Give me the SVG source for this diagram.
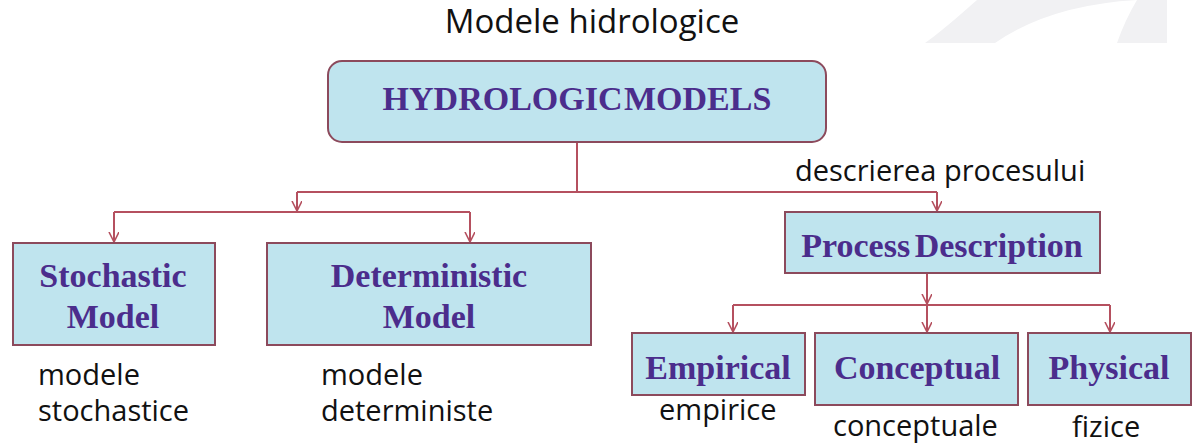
<svg xmlns="http://www.w3.org/2000/svg" width="1194" height="443" viewBox="0 0 1194 443">
<style>
.box{fill:#bfe4ee;stroke:#8c4a5c;stroke-width:2}
.bt{font-family:"Liberation Serif","Times New Roman",serif;font-weight:bold;font-size:34px;fill:#4b2d8c;text-anchor:middle}
.lbl{font-family:"Open Sans","Noto Sans",sans-serif;font-size:29px;fill:#111}
.con{fill:none;stroke:#b5505f;stroke-width:2}
</style>
<defs>
<marker id="ah" markerWidth="12" markerHeight="12" refX="10" refY="5" orient="auto" markerUnits="userSpaceOnUse">
<path d="M0,0 L10,5 L0,10" fill="none" stroke="#b5505f" stroke-width="1.6"/>
</marker>
</defs>
<rect width="1194" height="443" fill="#ffffff"/>
<g id="watermark">
<path d="M925,43 C950,25 965,10 977,0 L1167,0 L1167,43 Z" fill="#f1f1f3"/>
<path d="M995,43 Q1050,5 1137,0 Q1125,20 1117,43 Z" fill="#ffffff"/>
</g>
<text x="592" y="33" text-anchor="middle" font-family="'Open Sans','Noto Sans',sans-serif" font-size="33" fill="#111">Modele hidrologice</text>
<g id="connectors">
<path class="con" d="M577,142 V192 M297,192 H937 M114,212 H470 M927,273 V304 M733,305 H1110"/>
<path class="con" marker-end="url(#ah)" d="M297,192 V211"/>
<path class="con" marker-end="url(#ah)" d="M937,192 V211"/>
<path class="con" marker-end="url(#ah)" d="M114,212 V242"/>
<path class="con" marker-end="url(#ah)" d="M470,212 V242"/>
<path class="con" marker-end="url(#ah)" d="M927,273 V304"/>
<path class="con" marker-end="url(#ah)" d="M733,305 V332"/>
<path class="con" marker-end="url(#ah)" d="M927,305 V332"/>
<path class="con" marker-end="url(#ah)" d="M1110,305 V332"/>
</g>
<g id="hydrologic">
<rect class="box" x="328" y="61" width="498" height="81" rx="14"/>
<text class="bt" x="577" y="110" font-size="35" word-spacing="-7">HYDROLOGIC MODELS</text>
</g>
<g id="stochastic">
<rect class="box" x="13" y="243" width="202" height="102"/>
<text class="bt" x="113" y="287">Stochastic</text>
<text class="bt" x="113" y="328">Model</text>
</g>
<g id="deterministic">
<rect class="box" x="267" y="243" width="324" height="102"/>
<text class="bt" x="429" y="287">Deterministic</text>
<text class="bt" x="429" y="328">Model</text>
</g>
<g id="process">
<rect class="box" x="785" y="212" width="315" height="61"/>
<text class="bt" x="942" y="257" word-spacing="-4">Process Description</text>
</g>
<g id="empirical">
<rect class="box" x="632" y="333" width="173" height="62"/>
<text class="bt" x="718" y="379">Empirical</text>
</g>
<g id="conceptual">
<rect class="box" x="815" y="333" width="203" height="72"/>
<text class="bt" x="917" y="379">Conceptual</text>
</g>
<g id="physical">
<rect class="box" x="1028" y="333" width="163" height="72"/>
<text class="bt" x="1109" y="379">Physical</text>
</g>
<g id="labels">
<text class="lbl" x="795" y="181">descrierea procesului</text>
<text class="lbl" x="38" y="385">modele</text>
<text class="lbl" x="38" y="421">stochastice</text>
<text class="lbl" x="321" y="385">modele</text>
<text class="lbl" x="321" y="421">deterministe</text>
<text class="lbl" x="659" y="420">empirice</text>
<text class="lbl" x="833" y="436">conceptuale</text>
<text class="lbl" x="1072" y="437">fizice</text>
</g>
</svg>
